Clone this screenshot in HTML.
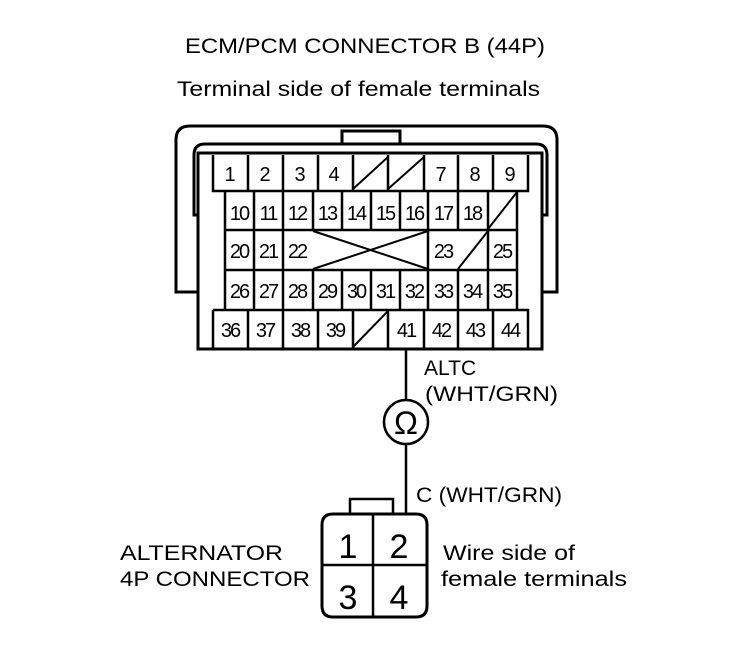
<!DOCTYPE html>
<html><head><meta charset="utf-8"><style>
html,body{margin:0;padding:0;background:#fff;}
svg{display:block;}
text{font-family:"Liberation Sans",Arial,sans-serif;fill:#000;}
</style></head><body>
<svg width="752" height="650" viewBox="0 0 752 650" xmlns="http://www.w3.org/2000/svg">
<text x="185" y="53" font-size="21" textLength="360" lengthAdjust="spacingAndGlyphs">ECM/PCM CONNECTOR B (44P)</text>
<text x="177" y="96" font-size="21" textLength="363" lengthAdjust="spacingAndGlyphs">Terminal side of female terminals</text>
<g fill="none" stroke="#000" stroke-width="3">
<path d="M198,292 H176 V140 Q176,126 190,126 H543 Q557,126 557,140 V292 H542"/>
<path d="M342,143 V131 H400 V143"/>
<path d="M198,215 H194 V155 Q194,144 205,144 H536 Q547,144 547,155 V215 H542"/>
<rect x="198" y="153" width="344" height="196"/>
</g>
<g fill="none" stroke="#000" stroke-width="2.5">
<path d="M213,155 V191 H528 V155 M248,155 V191 M283,155 V191 M318,155 V191 M353,155 V191 M388,155 V191 M424,155 V191 M458,155 V191 M493,155 V191"/>
<path d="M225,191 V310 M517,191 V310 M225,230 H517 M225,270 H517"/>
<path d="M254,191 V310 M283,191 V310 M313,191 V230 M342,191 V230 M371,191 V230 M400,191 V230 M428,191 V310 M458,191 V230 M488,191 V230"/>
<path d="M313,270 V310 M342,270 V310 M371,270 V310 M400,270 V310 M458,270 V310 M488,230 V310"/>
<path d="M213,310 V348 M213,310 H528 V348 M248,310 V348 M283,310 V348 M318,310 V348 M353,310 V348 M388,310 V348 M424,310 V348 M458,310 V348 M493,310 V348"/>
</g>
<g stroke="#000" stroke-width="2">
<line x1="353" y1="189" x2="388" y2="157"/>
<line x1="388" y1="189" x2="424" y2="157"/>
<line x1="488" y1="229" x2="517" y2="192"/>
<line x1="458" y1="269" x2="488" y2="231"/>
<line x1="313" y1="231" x2="428" y2="269"/>
<line x1="313" y1="269" x2="428" y2="231"/>
<line x1="353" y1="347" x2="388" y2="311"/>
</g>
<g font-size="20" text-anchor="middle">
<text x="230" y="181">1</text><text x="265" y="181">2</text><text x="300" y="181">3</text><text x="334" y="181">4</text>
<text x="441" y="181">7</text><text x="475" y="181">8</text><text x="510" y="181">9</text>
</g>
<g font-size="20" text-anchor="middle" letter-spacing="-2">
<text x="239" y="220">10</text><text x="268" y="220">11</text><text x="297" y="220">12</text><text x="327" y="220">13</text><text x="356" y="220">14</text><text x="385" y="220">15</text><text x="414" y="220">16</text><text x="443" y="220">17</text><text x="472" y="220">18</text>
<text x="239" y="258">20</text><text x="268" y="258">21</text><text x="297" y="258">22</text><text x="443" y="258">23</text><text x="502" y="258">25</text>
<text x="239" y="298">26</text><text x="268" y="298">27</text><text x="297" y="298">28</text><text x="327" y="298">29</text><text x="356" y="298">30</text><text x="385" y="298">31</text><text x="414" y="298">32</text><text x="443" y="298">33</text><text x="472" y="298">34</text><text x="502" y="298">35</text>
<text x="230" y="337">36</text><text x="265" y="337">37</text><text x="300" y="337">38</text><text x="335" y="337">39</text><text x="406" y="337">41</text><text x="441" y="337">42</text><text x="475" y="337">43</text><text x="510" y="337">44</text>
</g>
<g stroke="#000" stroke-width="2.5" fill="none">
<line x1="406" y1="349" x2="406" y2="400"/>
<circle cx="406" cy="422" r="22"/>
<line x1="406" y1="444" x2="406" y2="514"/>
<path d="M350,514 V499 H393 V514"/>
<path d="M333,514 H416 Q427,514 427,525 V606 Q427,617 416,617 H333 Q322,617 322,606 V525 Q322,514 333,514 Z" stroke-width="3"/>
<line x1="373" y1="514" x2="373" y2="617"/>
<line x1="322" y1="565" x2="427" y2="565"/>
</g>
<text x="406" y="434" font-size="32" text-anchor="middle" font-family="DejaVu Sans">Ω</text>
<g font-size="34" text-anchor="middle">
<text x="348" y="558">1</text><text x="399" y="558">2</text>
<text x="348" y="609">3</text><text x="399" y="609">4</text>
</g>
<g font-size="21">
<text x="424" y="375">ALTC</text>
<text x="425" y="401" textLength="133" lengthAdjust="spacingAndGlyphs">(WHT/GRN)</text>
<text x="416" y="502" textLength="146" lengthAdjust="spacingAndGlyphs">C (WHT/GRN)</text>
<text x="120" y="560" textLength="163" lengthAdjust="spacingAndGlyphs">ALTERNATOR</text>
<text x="120" y="586" textLength="190" lengthAdjust="spacingAndGlyphs">4P CONNECTOR</text>
<text x="443" y="560" textLength="132" lengthAdjust="spacingAndGlyphs">Wire side of</text>
<text x="441" y="586" textLength="186" lengthAdjust="spacingAndGlyphs">female terminals</text>
</g>
</svg>
</body></html>
